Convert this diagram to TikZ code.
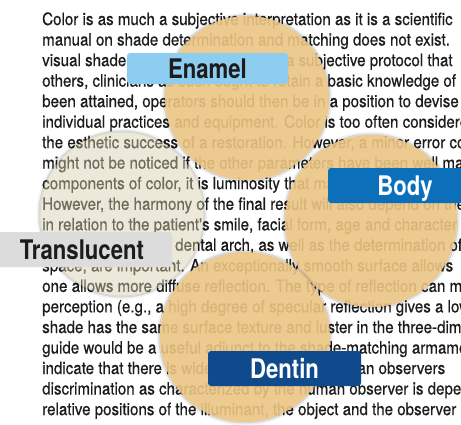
\documentclass[tikz,border=0pt]{standalone}
\usepackage{fontspec}
\newfontfamily\bodyfont[FakeStretch=0.89,FakeBold=0.5]{TeX Gyre Heros}
\newfontfamily\labfont[FakeStretch=0.82]{TeX Gyre Heros}
\definecolor{tanc}{RGB}{236,198,132}
\definecolor{palec}{RGB}{217,208,173}
\definecolor{enamelblue}{RGB}{141,205,240}
\definecolor{bodyblue}{RGB}{11,112,185}
\definecolor{dentinblue}{RGB}{14,74,140}
\definecolor{transgray}{RGB}{220,220,220}
\definecolor{inkc}{RGB}{28,28,28}
\tikzset{
  txtline/.style={anchor=base west, inner sep=0pt, text=inkc, font=\bodyfont\fontsize{17}{17}\selectfont},
  tancirc/.style={circle, inner sep=0pt, fill=tanc, fill opacity=0.9, draw=none},
  palecirc/.style={circle, inner sep=0pt, fill=palec, fill opacity=0.45, draw=none},
  ring1/.style={draw=black, opacity=0.13, line width=2pt},
  ring2/.style={draw=black, opacity=0.05, line width=2.5pt},
  lab/.style={rounded corners=3pt, inner sep=0pt, text height=19.4pt, text depth=0pt,
    font=\labfont\bfseries\fontsize{27}{27}\selectfont}
}
\begin{document}
\begin{tikzpicture}[x=1pt,y=-1pt]
\useasboundingbox (0,0) rectangle (461,424);
\clip (0,0) rectangle (461,424);
\fill[white] (0,0) rectangle (461,424);
% paragraph
\node[txtline] (l1) at (42,25.0) {Color is as much a subjective interpretation as it is a scientific};
\node[txtline] (l2) at (42,45.5) {manual on shade determination and matching does not exist.};
\node[txtline] (l3) at (42,66.1) {visual shade matching is essentially a subjective protocol that};
\node[txtline] (l4) at (42,86.6) {others, clinicians as such ought to retain a basic knowledge of};
\node[txtline] (l5) at (42,107.1) {been attained, operators should then be in a position to devise};
\node[txtline] (l6) at (42,127.7) {individual practices and equipment. Color is too often considered};
\node[txtline] (l7) at (42,148.2) {the esthetic success of a restoration. However, a minor error could};
\node[txtline] (l8) at (42,168.7) {might not be noticed if the other parameters have been well matched};
\node[txtline] (l9) at (42,189.2) {components of color, it is luminosity that matters most.};
\node[txtline] (l10) at (42,209.8) {However, the harmony of the final result will also depend on the};
\node[txtline] (l11) at (42,230.3) {in relation to the patient's smile, facial form, age and character};
\node[txtline] (l12) at (175,250.8) {dental arch, as well as the determination of};
\node[txtline] (l13) at (42,271.4) {space, are important. An exceptionally smooth surface allows};
\node[txtline] (l14) at (42,291.9) {one allows more diffuse reflection. The type of reflection can modify};
\node[txtline] (l15) at (42,312.4) {perception (e.g., a high degree of specular reflection gives a lower};
\node[txtline] (l16) at (42,333.0) {shade has the same surface texture and luster in the three-dimensional};
\node[txtline] (l17) at (42,353.5) {guide would be a useful adjunct to the shade-matching armamentarium.};
\node[txtline] (l18) at (42,374.0) {indicate that there is wide variation among human observers};
\node[txtline] (l19) at (42,394.5) {discrimination as characterized by the human observer is dependent};
\node[txtline] (l20) at (42,415.1) {relative positions of the illuminant, the object and the observer};
% circles
\coordinate (ct) at (122,214);
\coordinate (ce) at (247,98);
\coordinate (cb) at (371,221);
\coordinate (cd) at (245,337);
\draw[ring2] (ct) circle[radius=84];
\draw[ring1] (ct) circle[radius=82.5];
\node[palecirc, minimum size=164pt] (transc) at (ct) {};
\draw[ring2] (ce) circle[radius=84];
\draw[ring1] (ce) circle[radius=82.5];
\node[tancirc, minimum size=164pt] (enamelc) at (ce) {};
\draw[ring2] (cb) circle[radius=88];
\draw[ring1] (cb) circle[radius=86.5];
\node[tancirc, minimum size=172pt] (bodyc) at (cb) {};
\draw[ring2] (cd) circle[radius=87];
\draw[ring1] (cd) circle[radius=85.5];
\node[tancirc, minimum size=170pt] (dentinc) at (cd) {};
% labels
\node[lab, fill=enamelblue, text=inkc, minimum width=161pt, minimum height=31pt] (enamel) at (207.5,68.5) {Enamel};
\node[lab, fill=bodyblue, text=white, minimum width=154pt, minimum height=35pt] (body) at (405,185.5) {Body};
\node[lab, fill=transgray, text=inkc, minimum width=180pt, minimum height=35pt] (transl) at (82,249.5) {Translucent};
\node[lab, fill=dentinblue, text=white, minimum width=153pt, minimum height=35pt] (dentin) at (284.5,368.5) {Dentin};
\end{tikzpicture}
\end{document}
